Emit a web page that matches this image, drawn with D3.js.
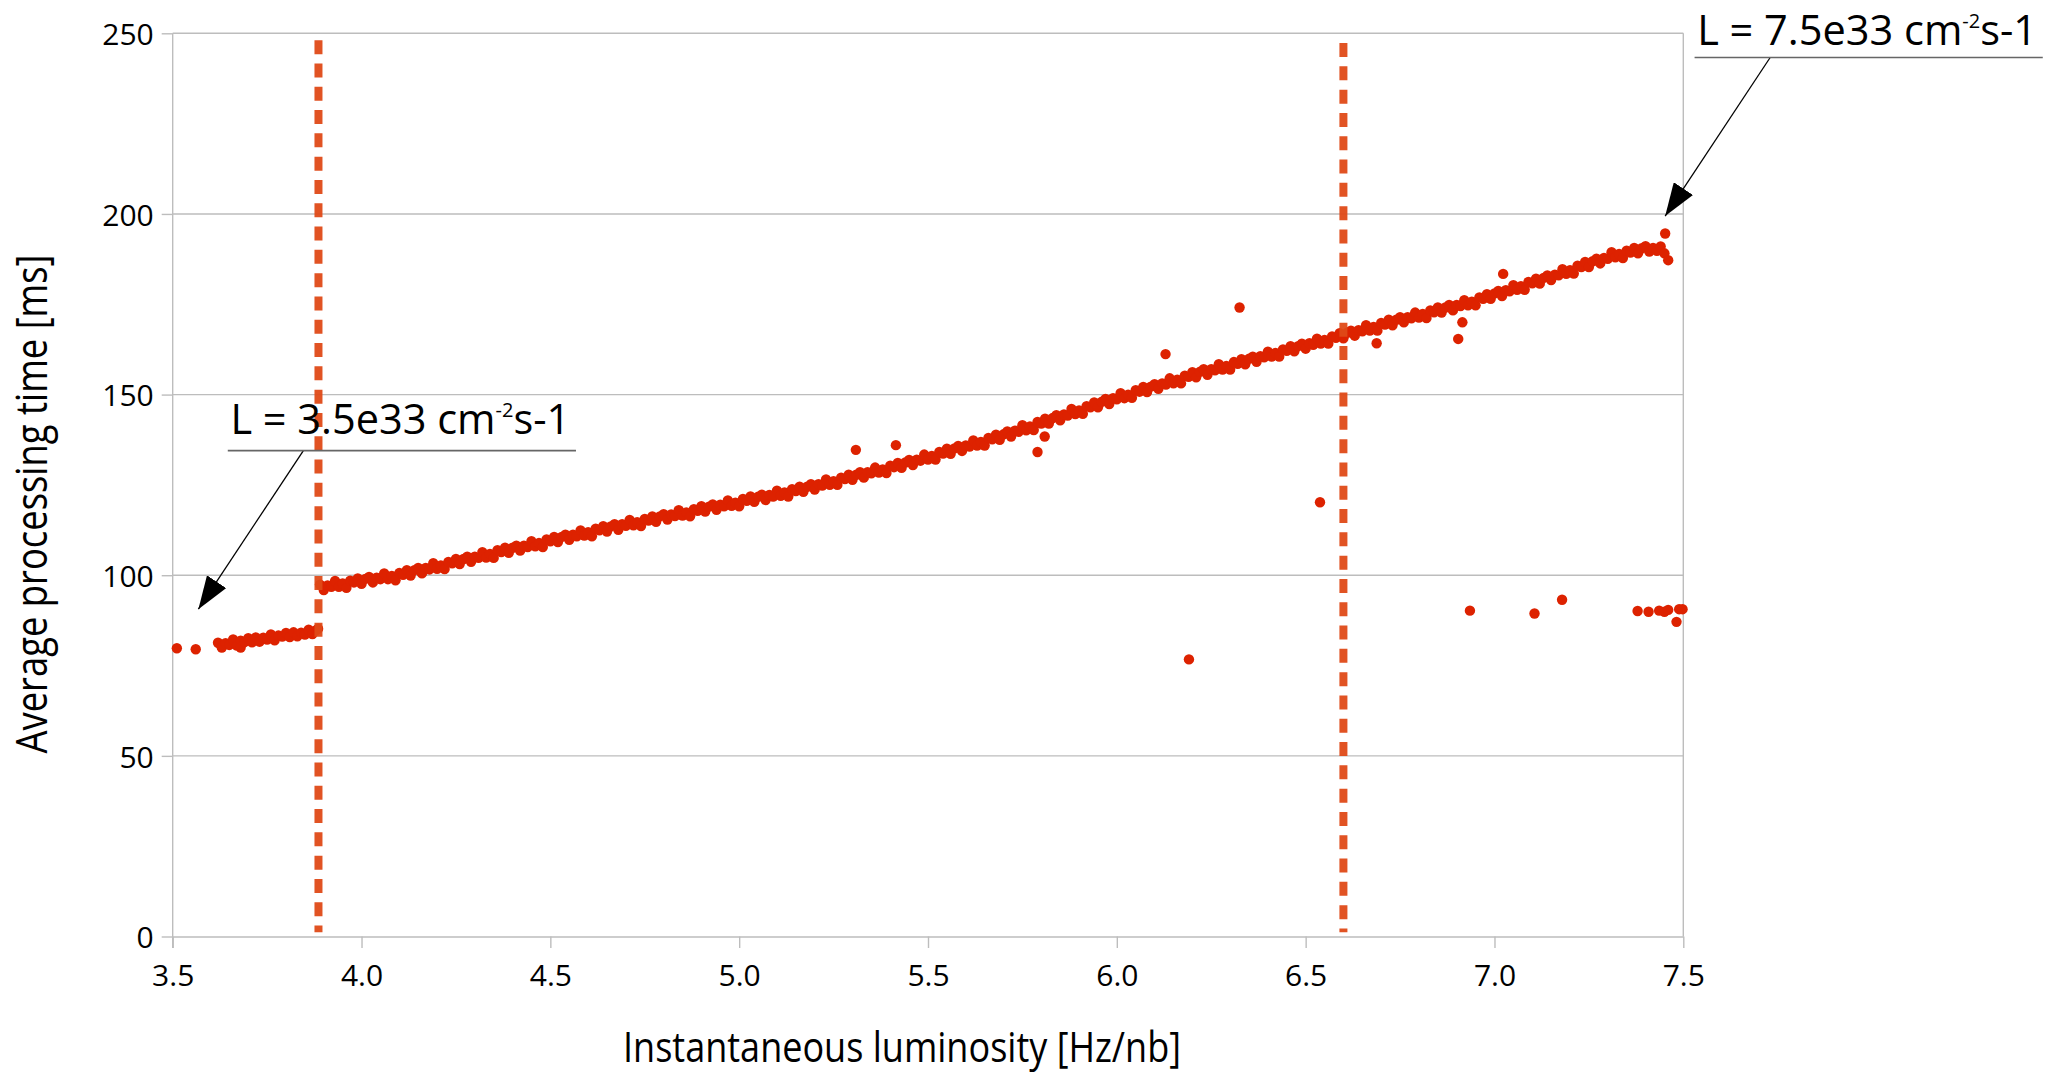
<!DOCTYPE html>
<html>
<head>
<meta charset="utf-8">
<script src="https://cdn.jsdelivr.net/npm/d3@7"></script>
<style>
  html, body { margin: 0; padding: 0; background: #fff; }
  svg { display: block; }
</style>
</head>
<body>
<svg id="chart" width="2047" height="1075"></svg>
<script>
// ---------------- DATA ----------------
const xTicks = [3.5, 4.0, 4.5, 5.0, 5.5, 6.0, 6.5, 7.0, 7.5];
const yTicks = [0, 50, 100, 150, 200, 250];
const xTitle = "Instantaneous luminosity [Hz/nb]";
const yTitle = "Average processing time [ms]";

// threshold markers (luminosity)
const thresholds = [3.886, 6.60];

// low-luminosity run segment
const lowSegment = [
  [3.511,79.8],[3.561,79.5],
  [3.62,81.3],[3.63,80.2],[3.63,80.0],[3.64,81.2],[3.65,80.7],[3.66,82.2],[3.67,80.5],[3.68,81.9],[3.68,80.0],
  [3.69,81.5],[3.70,82.6],[3.71,81.4],[3.72,82.8],[3.73,81.6],[3.74,82.7],[3.75,82.2],[3.76,83.6],
  [3.77,82.0],[3.78,83.3],[3.79,83.0],[3.80,84.0],[3.81,82.9],[3.82,84.2],[3.83,83.1],[3.84,84.1],
  [3.85,83.6],[3.86,84.9],[3.87,83.7],[3.88,84.8],[3.885,85.2]
];

// main band
const mainBand = [
  [3.89,97.4],[3.90,95.9],[3.91,97.2],[3.92,96.8],[3.93,98.4],[3.94,96.8],[3.95,97.7],[3.96,96.5],[3.97,98.5],[3.98,98.0],
  [3.99,99.1],[4.00,97.6],[4.01,99.0],[4.02,99.5],[4.03,98.0],[4.04,99.3],[4.05,98.9],[4.06,100.5],[4.07,98.9],[4.08,99.8],
  [4.09,98.6],[4.10,100.6],[4.11,100.1],[4.12,101.4],[4.13,99.9],[4.14,101.4],[4.15,102.0],[4.16,100.5],[4.17,102.0],[4.18,101.6],
  [4.19,103.3],[4.20,101.8],[4.21,102.7],[4.22,101.7],[4.23,103.7],[4.24,103.3],[4.25,104.5],[4.26,103.1],[4.27,104.5],[4.28,105.1],
  [4.29,103.7],[4.30,105.1],[4.31,104.8],[4.32,106.4],[4.33,104.9],[4.34,105.9],[4.35,104.8],[4.36,106.9],[4.37,106.4],[4.38,107.6],
  [4.39,106.2],[4.40,107.6],[4.41,108.2],[4.42,106.8],[4.43,108.2],[4.44,107.8],[4.45,109.4],[4.46,108.0],[4.47,108.9],[4.48,107.8],
  [4.49,109.9],[4.50,109.4],[4.51,110.6],[4.52,109.2],[4.53,110.6],[4.54,111.2],[4.55,109.8],[4.56,111.2],[4.57,110.8],[4.58,112.4],
  [4.59,111.0],[4.60,111.9],[4.61,110.8],[4.62,112.9],[4.63,112.4],[4.64,113.6],[4.65,112.1],[4.66,113.5],[4.67,114.1],[4.68,112.6],
  [4.69,114.1],[4.70,113.7],[4.71,115.3],[4.72,113.8],[4.73,114.7],[4.74,113.6],[4.75,115.6],[4.76,115.1],[4.77,116.3],[4.78,114.8],
  [4.79,116.3],[4.80,116.9],[4.81,115.4],[4.82,116.8],[4.83,116.4],[4.84,118.0],[4.85,116.5],[4.86,117.4],[4.87,116.3],[4.88,118.3],
  [4.89,117.8],[4.90,119.1],[4.91,117.6],[4.92,119.0],[4.93,119.6],[4.94,118.1],[4.95,119.5],[4.96,119.1],[4.97,120.7],[4.98,119.2],
  [4.99,120.1],[5.00,119.1],[5.01,121.1],[5.02,120.6],[5.03,121.8],[5.04,120.3],[5.05,121.7],[5.06,122.3],[5.07,120.8],[5.08,122.2],
  [5.09,121.8],[5.10,123.4],[5.11,122.0],[5.12,122.9],[5.13,121.8],[5.14,123.8],[5.15,123.3],[5.16,124.5],[5.17,123.1],[5.18,124.5],
  [5.19,125.2],[5.20,123.7],[5.21,125.2],[5.22,124.8],[5.23,126.5],[5.24,125.0],[5.25,126.0],[5.26,125.0],[5.27,127.0],[5.28,126.6],
  [5.29,127.8],[5.30,126.4],[5.31,127.8],[5.32,128.5],[5.33,127.0],[5.34,128.5],[5.35,128.2],[5.36,129.8],[5.37,128.4],[5.38,129.3],
  [5.39,128.3],[5.40,130.3],[5.41,129.9],[5.42,131.1],[5.43,129.7],[5.44,131.2],[5.45,131.9],[5.46,130.5],[5.47,132.0],[5.48,131.7],
  [5.49,133.4],[5.50,132.0],[5.51,133.0],[5.52,132.0],[5.53,134.1],[5.54,133.7],[5.55,135.0],[5.56,133.6],[5.57,135.1],[5.58,135.8],
  [5.59,134.4],[5.60,135.9],[5.61,135.6],[5.62,137.3],[5.63,135.9],[5.64,136.9],[5.65,135.9],[5.66,138.0],[5.67,137.6],[5.68,138.9],
  [5.69,137.5],[5.70,139.0],[5.71,139.8],[5.72,138.4],[5.73,140.0],[5.74,139.7],[5.75,141.5],[5.76,140.1],[5.77,141.2],[5.78,140.2],
  [5.79,142.4],[5.80,142.0],[5.81,143.3],[5.82,142.0],[5.83,143.5],[5.84,144.3],[5.85,142.9],[5.86,144.5],[5.87,144.2],[5.88,146.0],
  [5.89,144.6],[5.90,145.6],[5.91,144.7],[5.92,146.8],[5.93,146.5],[5.94,147.8],[5.95,146.5],[5.96,148.0],[5.97,148.8],[5.98,147.4],
  [5.99,149.0],[6.00,148.7],[6.01,150.4],[6.02,149.0],[6.03,150.0],[6.04,149.1],[6.05,151.2],[6.06,150.8],[6.07,152.1],[6.08,150.7],
  [6.09,152.2],[6.10,152.9],[6.11,151.6],[6.12,153.1],[6.13,152.8],[6.14,154.5],[6.15,153.1],[6.16,154.1],[6.17,153.1],[6.18,155.2],
  [6.19,154.9],[6.20,156.2],[6.21,154.8],[6.22,156.3],[6.23,157.0],[6.24,155.5],[6.25,157.0],[6.26,156.7],[6.27,158.4],[6.28,156.9],
  [6.29,157.9],[6.30,156.9],[6.31,159.0],[6.32,158.5],[6.33,159.8],[6.34,158.4],[6.35,159.9],[6.36,160.5],[6.37,159.1],[6.38,160.6],
  [6.39,160.3],[6.40,161.9],[6.41,160.5],[6.42,161.5],[6.43,160.5],[6.44,162.5],[6.45,162.1],[6.46,163.4],[6.47,162.0],[6.48,163.4],
  [6.49,164.1],[6.50,162.7],[6.51,164.2],[6.52,163.8],[6.53,165.5],[6.54,164.1],[6.55,165.1],[6.56,164.1],[6.57,166.1],[6.58,165.7],
  [6.59,167.0],[6.60,165.6],[6.61,167.1],[6.62,167.7],[6.63,166.3],[6.64,167.8],[6.65,167.5],[6.66,169.2],[6.67,167.7],[6.68,168.7],
  [6.69,167.7],[6.70,169.8],[6.71,169.4],[6.72,170.7],[6.73,169.2],[6.74,170.7],[6.75,171.4],[6.76,170.0],[6.77,171.4],[6.78,171.1],
  [6.79,172.7],[6.80,171.3],[6.81,172.3],[6.82,171.2],[6.83,173.3],[6.84,172.8],[6.85,174.1],[6.86,172.7],[6.87,174.1],[6.88,174.8],
  [6.89,173.3],[6.90,174.8],[6.91,174.5],[6.92,176.1],[6.93,174.7],[6.94,175.7],[6.95,174.7],[6.96,176.9],[6.97,176.5],[6.98,177.8],
  [6.99,176.5],[7.00,178.0],[7.01,178.7],[7.02,177.3],[7.03,178.9],[7.04,178.6],[7.05,180.3],[7.06,179.0],[7.07,180.0],[7.08,179.0],
  [7.09,181.2],[7.10,180.8],[7.11,182.1],[7.12,180.7],[7.13,182.3],[7.14,183.0],[7.15,181.7],[7.16,183.2],[7.17,183.0],[7.18,184.7],
  [7.19,183.4],[7.20,184.4],[7.21,183.5],[7.22,185.7],[7.23,185.3],[7.24,186.7],[7.25,185.3],[7.26,186.9],[7.27,187.6],[7.28,186.3],
  [7.29,187.8],[7.30,187.6],[7.31,189.4],[7.32,188.0],[7.33,188.9],[7.34,187.8],[7.35,189.8],[7.36,189.3],[7.37,190.6],[7.38,189.1],
  [7.39,190.5],[7.40,191.1],[7.41,189.6],[7.42,190.6],[7.43,189.8],[7.44,191.0],[7.45,189.1]
];

// outliers above / near the band
const upperOutliers = [
  [5.309,134.7],[5.415,136.0],[5.790,134.1],[5.809,138.4],[6.129,161.2],[6.325,174.1],
  [6.688,164.2],[6.904,165.4],[6.915,170.0],[7.023,183.4],[7.452,194.6],[7.460,187.2]
];

// outliers well below the band
const lowerOutliers = [
  [6.538,120.2],[6.191,76.7],[6.935,90.2],[7.106,89.4],[7.179,93.2],[7.379,90.1],[7.408,89.9],
  [7.436,90.2],[7.450,89.9],[7.460,90.4],[7.482,87.1],[7.489,90.6],[7.498,90.6]
];

// annotations: arrow tip in data units, text
const annotations = [
  { tip: [3.568, 90.6], label: "L = 3.5e33 cm", sup: "-2", tail: "s-1" },
  { tip: [7.452, 199.4], label: "L = 7.5e33 cm", sup: "-2", tail: "s-1" }
];

// ---------------- DRAWING ----------------
(function () {
  const svg = d3.select("#chart");
  const W = 2047, H = 1075;
  svg.append("rect").attr("width", W).attr("height", H).attr("fill", "#fff");

  const pL = 172.7, pR = 1683.3, pT = 33.3, pB = 936.5;
  const x = d3.scaleLinear().domain([3.5, 7.5]).range([pL, pR]);
  const y = d3.scaleLinear().domain([0, 250]).range([pB, pT]);

  const gridColor = "#bdbdbd";
  const dotColor = "#dd2200";
  const lineColor = "#e04a18";
  const font = "'Open Sans', 'DejaVu Sans', sans-serif";

  // grid lines
  svg.append("g").selectAll("line")
    .data(yTicks.filter(d => d > 0))
    .join("line")
    .attr("x1", pL).attr("x2", pR)
    .attr("y1", d => y(d)).attr("y2", d => y(d))
    .attr("stroke", gridColor).attr("stroke-width", 1.4);

  // right border
  svg.append("line")
    .attr("x1", pR).attr("x2", pR).attr("y1", pT).attr("y2", pB)
    .attr("stroke", gridColor).attr("stroke-width", 1.4);

  // axes
  const yAxis = d3.axisLeft(y).tickValues(yTicks).tickSize(11).tickSizeOuter(0).tickPadding(8)
    .tickFormat(d3.format("d"));
  const gy = svg.append("g").attr("transform", `translate(${pL},0)`).call(yAxis);
  gy.select(".domain").attr("stroke", gridColor).attr("stroke-width", 1.4)
    .attr("d", `M0,${pT}V${pB + 11.5}`);
  gy.selectAll(".tick line").attr("stroke", gridColor).attr("stroke-width", 1.4);
  gy.selectAll(".tick text").attr("font-family", font).attr("font-size", 30)
    .attr("fill", "#000").attr("dy", "0.38em");

  const xAxis = d3.axisBottom(x).tickValues(xTicks).tickSize(11.5).tickSizeOuter(0).tickPadding(16.7)
    .tickFormat(d3.format(".1f"));
  const gx = svg.append("g").attr("transform", `translate(0,${pB})`).call(xAxis);
  gx.select(".domain").attr("stroke", gridColor).attr("stroke-width", 1.4);
  gx.selectAll(".tick line").attr("stroke", gridColor).attr("stroke-width", 1.4);
  gx.selectAll(".tick text").attr("font-family", font).attr("font-size", 30).attr("fill", "#000");

  // axis titles
  svg.append("text")
    .attr("x", 902).attr("y", 1062)
    .attr("text-anchor", "middle")
    .attr("font-family", font).attr("font-size", 42).attr("fill", "#000")
    .attr("textLength", 558).attr("lengthAdjust", "spacingAndGlyphs")
    .text(xTitle);

  svg.append("text")
    .attr("transform", "translate(47,504) rotate(-90)")
    .attr("text-anchor", "middle")
    .attr("font-family", font).attr("font-size", 44).attr("fill", "#000")
    .attr("textLength", 499).attr("lengthAdjust", "spacingAndGlyphs")
    .text(yTitle);

  // points
  const allPts = [...lowSegment, ...mainBand, ...upperOutliers, ...lowerOutliers];
  svg.append("g").selectAll("circle")
    .data(allPts)
    .join("circle")
    .attr("cx", d => x(d[0])).attr("cy", d => y(d[1]))
    .attr("r", 5.2)
    .attr("fill", dotColor);

  // threshold dashed lines
  svg.append("g").selectAll("line")
    .data(thresholds)
    .join("line")
    .attr("x1", d => x(d)).attr("x2", d => x(d))
    .attr("y1", (d, i) => y(i === 0 ? 248.1 : 247.3)).attr("y2", y(1.2))
    .attr("stroke", lineColor).attr("stroke-width", 8)
    .attr("stroke-dasharray", "14 9.3")
    .attr("opacity", 0.95);

  // annotations
  const defs = svg.append("defs");
  defs.append("marker")
    .attr("id", "arrowhead")
    .attr("viewBox", "0 0 33 23")
    .attr("refX", 33).attr("refY", 11.5)
    .attr("markerWidth", 33).attr("markerHeight", 23)
    .attr("markerUnits", "userSpaceOnUse")
    .attr("orient", "auto")
    .append("path").attr("d", "M0,0L33,11.5L0,23Z").attr("fill", "#000");

  annotations.forEach(a => {
    const tx = x(a.tip[0]), ty = y(a.tip[1]);
    const sx = tx + 105, sy = ty - 158.6;
    const g = svg.append("g");
    g.append("line")
      .attr("x1", sx).attr("y1", sy).attr("x2", tx).attr("y2", ty)
      .attr("stroke", "#000").attr("stroke-width", 1.3)
      .attr("marker-end", "url(#arrowhead)");
    g.append("line")
      .attr("x1", sx - 75.6).attr("x2", sx + 272.6)
      .attr("y1", sy).attr("y2", sy)
      .attr("stroke", "#666").attr("stroke-width", 1.6);
    // keep the text box inside the canvas
    const base = Math.max(sy - 17, 45);
    const t = g.append("text")
      .attr("x", sx - 73).attr("y", base)
      .attr("font-family", font).attr("font-size", 41.5).attr("fill", "#000");
    t.append("tspan").text(a.label);
    t.append("tspan").attr("font-size", 20).attr("dy", -17).text(a.sup);
    t.append("tspan").attr("dy", 17).text(a.tail);
  });
})();
</script>
</body>
</html>
